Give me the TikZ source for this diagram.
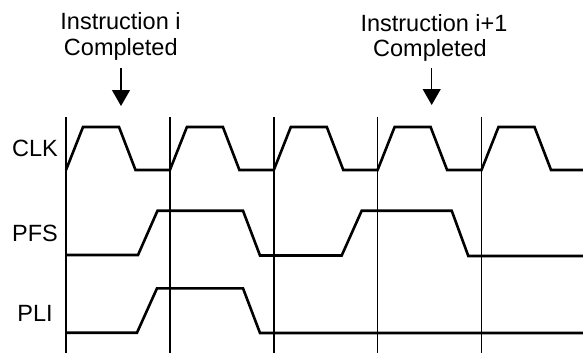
\documentclass[tikz,border=0pt]{standalone}
\usepackage{fontspec}
\setmainfont{Liberation Sans}
\usetikzlibrary{arrows.meta}
\begin{document}
\begin{tikzpicture}[x=1pt,y=-1pt,
  lbl/.style={font=\fontsize{23.5}{26}\selectfont, inner sep=0pt, anchor=base},
  sig/.style={line width=2.6pt, line join=miter},
  grid/.style={line width=1.2pt},
  pointer/.style={line width=1.2pt, -{Triangle[width=18pt,length=16pt]}}]
\useasboundingbox (0,0) rectangle (583,354);
% labels
\node[lbl] (i1a) at (120.5,29) {Instruction i};
\node[lbl] (i1b) at (120.8,55) {Completed};
\node[lbl] (i2a) at (434,31.5) {Instruction i+1};
\node[lbl] (i2b) at (430,56.5) {Completed};
\node[lbl] (clk) at (35,156.5) {CLK};
\node[lbl] (pfs) at (35,241.5) {PFS};
\node[lbl] (pli) at (35,321.5) {PLI};
% arrows
\coordinate (a1s) at (121,68); \coordinate (a1e) at (121,106);
\coordinate (a2s) at (431.7,68); \coordinate (a2e) at (431.7,105);
\draw[pointer] (a1s) -- (a1e);
\draw[pointer] (a2s) -- (a2e);
% vertical grid lines
\foreach \x in {66,170,274,377.7,481.5}
  \draw[grid] (\x,117) -- (\x,353);
% CLK
\draw[sig] (66,170)
  \foreach \x in {66,169.9,273.8,377.6,481.5} {
    -- (\x,170) -- (\x+17,127) -- (\x+53,127) -- (\x+69.5,170)
  } -- (583,170);
% PFS
\draw[sig] (66,255) -- (138,255) -- (157.5,210.7) -- (243,210.7) -- (260,255.5)
  -- (341.7,255.5) -- (361.7,210.7) -- (451.7,210.7) -- (468.3,256) -- (583,256);
% PLI
\draw[sig] (66,332.7) -- (137,332.7) -- (157,288.3) -- (243,288.3) -- (260,333) -- (583,333);
\end{tikzpicture}
\end{document}
